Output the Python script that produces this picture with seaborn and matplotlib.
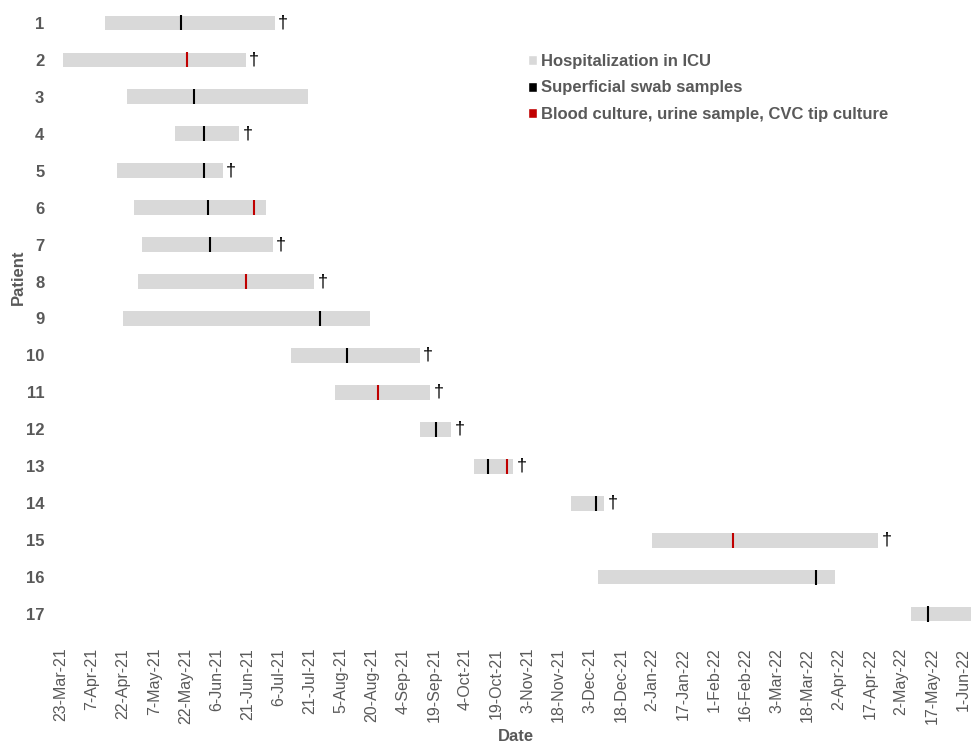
import matplotlib
matplotlib.use("Agg")
import matplotlib.pyplot as plt
import matplotlib.dates as mdates
from matplotlib.patches import Patch
import pandas as pd
import seaborn as sns

# ICU stay per patient
patients = list(range(1, 18))
icu_start = ["2021-04-13", "2021-03-24", "2021-04-24", "2021-05-17", "2021-04-19",
             "2021-04-27", "2021-05-01", "2021-04-29", "2021-04-22", "2021-07-12",
             "2021-08-02", "2021-09-12", "2021-10-08", "2021-11-24", "2022-01-02",
             "2021-12-07", "2022-05-07"]
icu_end = ["2021-07-04", "2021-06-20", "2021-07-20", "2021-06-17", "2021-06-09",
           "2021-06-30", "2021-07-03", "2021-07-23", "2021-08-19", "2021-09-12",
           "2021-09-17", "2021-09-27", "2021-10-27", "2021-12-10", "2022-04-21",
           "2022-03-31", "2022-06-05"]
deceased = [1, 2, 4, 5, 7, 8, 10, 11, 12, 13, 14, 15]

# sampling events
swab_patient = [1, 3, 4, 5, 6, 7, 9, 10, 12, 13, 14, 16, 17]
swab_date = ["2021-05-20", "2021-05-26", "2021-05-31", "2021-05-31", "2021-06-02",
             "2021-06-03", "2021-07-26", "2021-08-08", "2021-09-20", "2021-10-15",
             "2021-12-06", "2022-03-22", "2022-05-15"]
culture_patient = [2, 6, 8, 11, 13, 15]
culture_date = ["2021-05-23", "2021-06-24", "2021-06-20", "2021-08-23",
                "2021-10-24", "2022-02-10"]

tick_start, tick_end = "2021-03-23", "2022-06-01"

GREY_BAR = "#d9d9d9"
RED = "#c00000"
TEXT = "#595959"

sns.set_theme(style="white")
plt.rcParams["font.family"] = ["Liberation Sans", "DejaVu Sans"]

stays = pd.DataFrame({
    "patient": patients,
    "start": pd.to_datetime(icu_start),
    "end": pd.to_datetime(icu_end),
})
stays["pos"] = stays["patient"] - 1
stays["start_num"] = mdates.date2num(stays["start"])
stays["end_num"] = mdates.date2num(stays["end"])

events = pd.concat([
    pd.DataFrame({"patient": swab_patient, "date": pd.to_datetime(swab_date), "kind": "swab"}),
    pd.DataFrame({"patient": culture_patient, "date": pd.to_datetime(culture_date), "kind": "culture"}),
], ignore_index=True)
events["pos"] = events["patient"] - 1
events["date_num"] = mdates.date2num(events["date"])

fig = plt.figure(figsize=(9.71, 7.47), dpi=100)
ax = fig.add_axes([0.0628, 0.1533, 0.9372, 0.8407])

ax.barh(stays["pos"], stays["end_num"] - stays["start_num"], left=stays["start_num"],
        height=0.4, color=GREY_BAR, linewidth=0)

sns.scatterplot(data=events, x="date_num", y="pos", hue="kind",
                palette={"swab": "black", "culture": RED}, marker="|",
                s=118, linewidth=1.5, legend=False, ax=ax, zorder=3)

for _, row in stays[stays["patient"].isin(deceased)].iterrows():
    ax.annotate("\u2020", (row["end_num"], row["pos"]), xytext=(2.5, 0),
                textcoords="offset points", ha="left", va="center",
                fontsize=13, color="black")

ticks = pd.date_range(tick_start, tick_end, freq="15D")
ax.set_xticks(mdates.date2num(ticks))
ax.set_xticklabels([f"{d.day}-{d:%b-%y}" for d in ticks], rotation=90,
                   fontsize=11.5, color=TEXT)
x0 = mdates.date2num(pd.Timestamp(tick_start))
ax.set_xlim(x0, x0 + 438.8)

ax.set_yticks(stays["pos"])
ax.set_yticklabels([str(p) for p in patients], fontsize=12, fontweight="bold", color=TEXT)
ax.set_ylim(16.5, -0.5)

ax.tick_params(axis="both", length=0)
ax.tick_params(axis="y", pad=12)
ax.tick_params(axis="x", pad=11)
for spine in ax.spines.values():
    spine.set_visible(False)
ax.grid(False)

ax.set_xlabel("Date", fontsize=12, fontweight="bold", color=TEXT)
ax.xaxis.set_label_coords(0.5, -0.1537)
ax.set_ylabel("")
fig.text(18 / 971, 1 - 277 / 747, "Patient", rotation=90, ha="center", va="center",
         fontsize=12, fontweight="bold", color=TEXT)

handles = [
    Patch(facecolor=GREY_BAR, label="Hospitalization in ICU"),
    Patch(facecolor="black", label="Superficial swab samples"),
    Patch(facecolor=RED, label="Blood culture, urine sample, CVC tip culture"),
]
leg = ax.legend(handles=handles, loc="upper left", bbox_to_anchor=(0.5132, 0.921),
                frameon=False, handlelength=0.55, handleheight=0.55, handletextpad=0.2,
                labelspacing=0.68, borderpad=0, borderaxespad=0,
                prop={"size": 12, "weight": "bold"})
for t in leg.get_texts():
    t.set_color(TEXT)

fig.savefig("out.png", dpi=100, facecolor="white")
